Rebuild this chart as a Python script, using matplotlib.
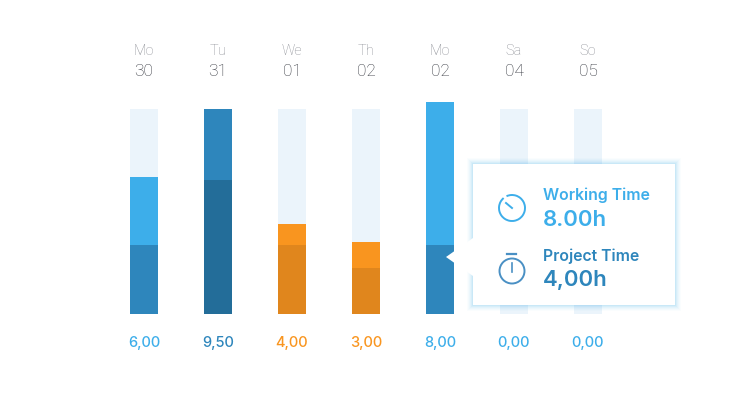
import matplotlib
matplotlib.use('Agg')
import matplotlib.pyplot as plt
from matplotlib.patches import Arc, Circle, Polygon, Rectangle

plt.rcParams['font.family'] = ['Inter', 'DejaVu Sans']

days = ['Mo', 'Tu', 'We', 'Th', 'Mo', 'Sa', 'So']
dates = ['30', '31', '01', '02', '02', '04', '05']
labels = ['6,00', '9,50', '4,00', '3,00', '8,00', '0,00', '0,00']
# bar heights as they are drawn in the picture
total_height = [137, 205, 90, 72, 212, 0, 0]
project_height = [69, 134, 69, 46, 69, 0, 0]
track_height = [205, 205, 205, 205, 205, 205, 205]
total_colors = ['#3DAEEA', '#2E86BC', '#F9951F', '#F9951F', '#3DAEEA', '#3DAEEA', '#3DAEEA']
project_colors = ['#2E86BC', '#236D99', '#E0861D', '#E0861D', '#2E86BC', '#2E86BC', '#2E86BC']
label_colors = ['#3DAEEA', '#2E86BC', '#F9951F', '#F9951F', '#3DAEEA', '#3DAEEA', '#3DAEEA']

x_pos = [144, 218, 292, 366, 440, 514, 588]

fig = plt.figure(figsize=(7.33, 3.96), dpi=100)
ax = fig.add_axes([0, 0, 1, 1])
ax.set_xlim(0, 733)
ax.set_ylim(-82, 314)
ax.axis('off')

ax.bar(x_pos, track_height, width=28, color='#EBF4FB', zorder=1)
ax.bar(x_pos, total_height, width=28, color=total_colors, zorder=2)
ax.bar(x_pos, project_height, width=28, color=project_colors, zorder=3)

for i, x in enumerate(x_pos):
    ax.text(x, 263, days[i], ha='center', va='center', fontsize=10.5, color='#8E9097', family='Roboto', fontweight='light')
    ax.text(x, 242, dates[i], ha='center', va='center', fontsize=12.5, color='#33363E', family='Roboto', fontweight='light')
    ax.text(x, -29.5, labels[i], ha='center', va='center', fontsize=10.5, color=label_colors[i], fontweight='medium')

# tooltip glow, then box and pointer
for grow, alpha in [(6, 0.025), (5, 0.03), (4, 0.04), (3, 0.05), (2, 0.07), (1, 0.09)]:
    ax.add_patch(Rectangle((473 - grow, 9 - grow), 202 + 2 * grow, 141 + 2 * grow,
                           facecolor='#3DAEEA', edgecolor='none', alpha=alpha, zorder=4))
ax.add_patch(Polygon([(446, 57), (473, 76), (473, 38)], closed=True, facecolor='white',
                     edgecolor='none', zorder=5))
ax.add_patch(Rectangle((473, 9), 202, 141, facecolor='white', edgecolor='none', zorder=5))

# gauge icon
ax.add_patch(Arc((512, 106), 26, 26, theta1=130, theta2=475, color='#3DAEEA', lw=1.4, zorder=6))
ax.plot([506, 512], [111, 106], color='#3DAEEA', lw=1.4, zorder=6)

# stopwatch icon
ax.add_patch(Circle((512, 43), 12.5, facecolor='none', edgecolor='#4A90C4', lw=1.4, zorder=6))
ax.plot([507, 516], [60, 60], color='#4A90C4', lw=1.6, zorder=6)
ax.plot([512, 512], [51, 42], color='#4A90C4', lw=1.2, zorder=6)

ax.text(543, 119, 'Working Time', ha='left', va='center', fontsize=11.4, color='#3DAEEA', fontweight='semibold', zorder=7)
ax.text(543, 94, '8.00h', ha='left', va='center', fontsize=16, color='#3DAEEA', fontweight='semibold', zorder=7)
ax.text(543, 58, 'Project Time', ha='left', va='center', fontsize=11.4, color='#2E86BC', fontweight='semibold', zorder=7)
ax.text(543, 34, '4,00h', ha='left', va='center', fontsize=16, color='#2E86BC', fontweight='semibold', zorder=7)

plt.savefig('out.png', dpi=100)
